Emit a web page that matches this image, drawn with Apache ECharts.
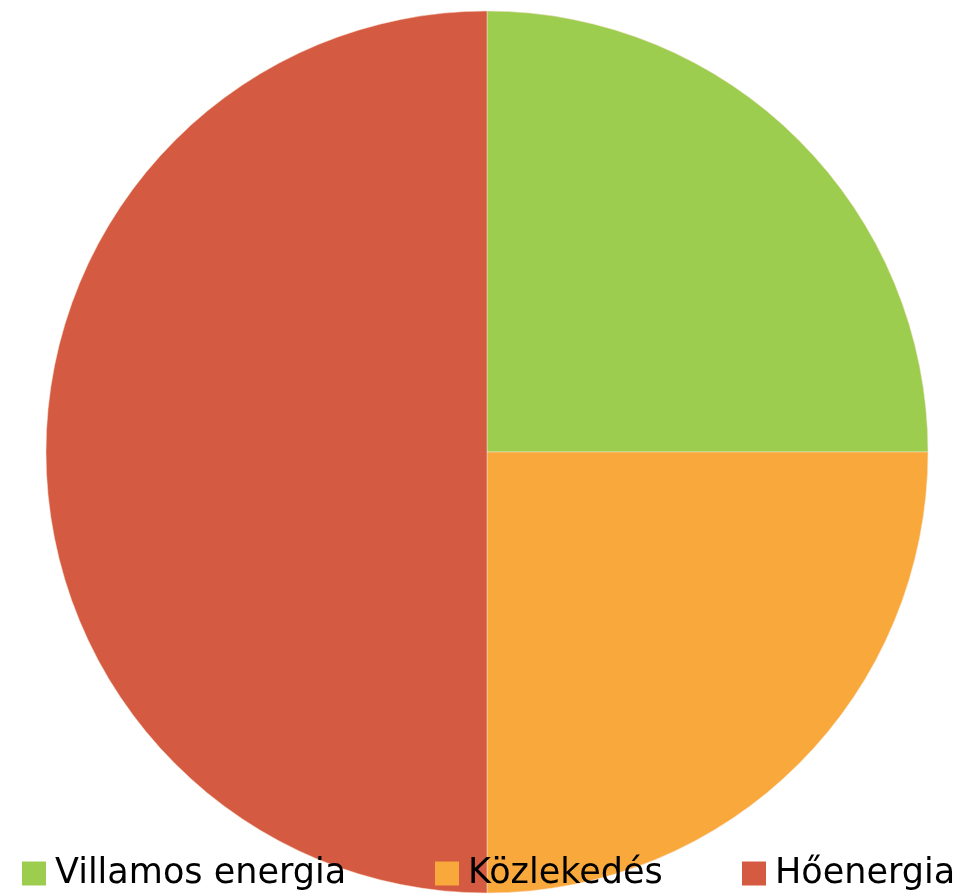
<!DOCTYPE html>
<html><head><meta charset="utf-8">
<script src="https://cdn.jsdelivr.net/npm/echarts@6/dist/echarts.min.js"></script>
<style>html,body{margin:0;padding:0;background:#fff}#c{width:979px;height:896px}</style>
</head><body><div id="c"></div>
<script>
var categories = ['Villamos energia', 'Közlekedés', 'Hőenergia'];
var values = [25, 25, 50];
var colors = ['#9CCD4F', '#F9A93B', '#D45A41'];
var legendLefts = [17, 430, 737];

var chart = echarts.init(document.getElementById('c'));
var legends = categories.map(function (name, i) {
  return {
    data: [name], left: legendLefts[i], top: 851, orient: 'horizontal',
    itemWidth: 24, itemHeight: 24, itemGap: 0, icon: 'rect', selectedMode: false,
    itemStyle: { borderWidth: 0 },
    textStyle: { fontFamily: 'DejaVu Sans', fontSize: 35, color: '#000', padding: [0, 0, 0, 4] }
  };
});
chart.setOption({
  animation: false,
  color: colors,
  legend: legends,
  series: [{
    type: 'pie', center: [487, 452], radius: 441, startAngle: 90, clockwise: true,
    label: { show: false }, labelLine: { show: false },
    itemStyle: { borderColor: '#fbe0d0', borderWidth: 0.5 },
    z: 1,
    data: categories.map(function (n, i) { return { name: n, value: values[i] }; })
  }]
});
</script></body></html>
